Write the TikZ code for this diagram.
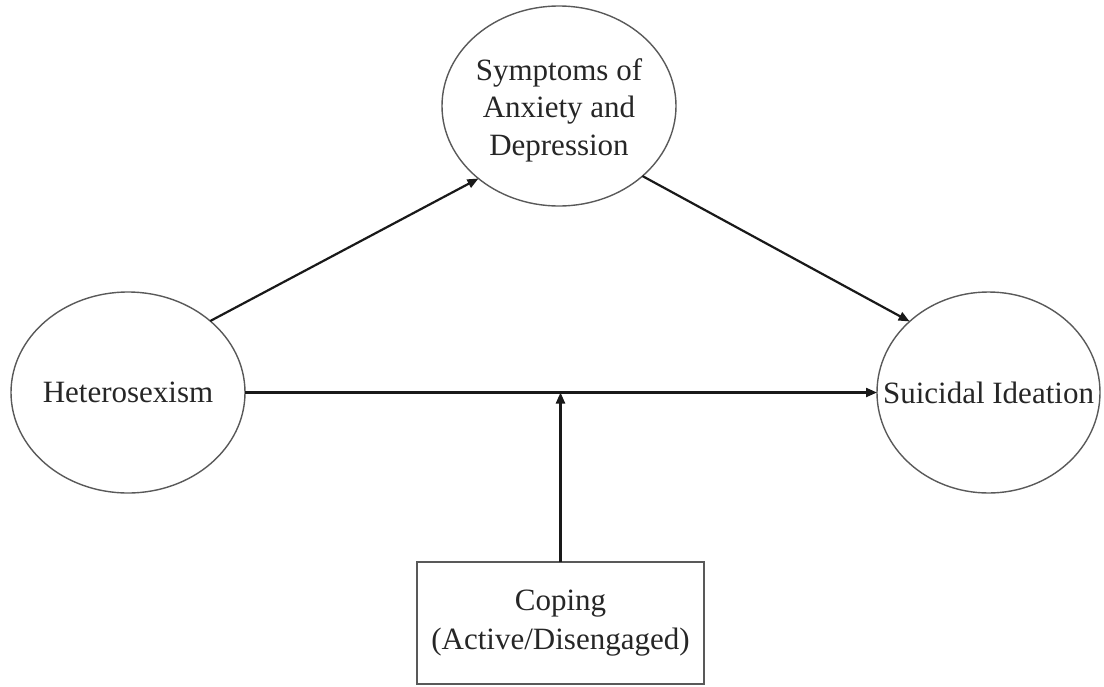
\documentclass[tikz,border=0pt]{standalone}
\usepackage{fontspec}
\setmainfont{Liberation Serif}
\usetikzlibrary{arrows.meta,shapes.geometric}
\begin{document}
\begin{tikzpicture}[x=1pt,y=-1pt,
  ell/.style={draw=black!65,line width=1.4pt,shape=ellipse,inner sep=0pt,outer sep=0pt},
  boxnode/.style={draw=black!65,line width=1.4pt,rectangle,inner sep=0pt,outer sep=0pt,
    minimum width=287pt,minimum height=122pt,align=center,
    font=\fontsize{31}{39}\selectfont,text=black!85},
  lbl/.style={align=center,inner sep=0pt,font=\fontsize{31}{37.5}\selectfont,text=black!85},
  arr/.style={draw=black!90,line width=2.2pt,-{Triangle[length=11pt,width=9pt]}},
  ]
\useasboundingbox (0,0) rectangle (1104,686);
\node[ell,minimum width=234pt,minimum height=201pt] (het) at (128,392.5) {};
\node[lbl] (hett) at (het.center) {Heterosexism};
\node[ell,minimum width=234pt,minimum height=200pt] (sym) at (559,106) {};
\node[lbl] (symt) at (559,110) {Symptoms of\\Anxiety and\\Depression};
\node[ell,minimum width=223pt,minimum height=201pt] (sui) at (988.5,392.5) {};
\node[lbl] (suit) at (sui.center) {Suicidal Ideation};
\node[boxnode] (cop) at (560.5,623) {Coping\\(Active/Disengaged)};
\coordinate (j) at (het.east -| cop.north);
\draw[arr] (het.41) -- (sym.222);
\draw[arr] (sym.320) -- (sui.138);
\draw[arr] (het.east) -- (sui.west);
\draw[arr] (cop.north) -- (j);
\end{tikzpicture}
\end{document}
